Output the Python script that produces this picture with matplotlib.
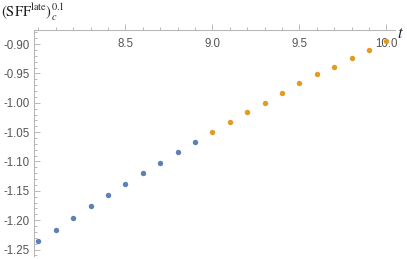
import matplotlib
matplotlib.use("Agg")
from matplotlib import pyplot as plt
from matplotlib.ticker import MultipleLocator, FixedLocator, FormatStrFormatter

# data
t_early = [8.0, 8.1, 8.2, 8.3, 8.4, 8.5, 8.6, 8.7, 8.8, 8.9]
sff_early = [-1.236, -1.216, -1.196, -1.176, -1.157, -1.139, -1.119, -1.102, -1.083, -1.067]
t_late = [9.0, 9.1, 9.2, 9.3, 9.4, 9.5, 9.6, 9.7, 9.8, 9.9, 10.0]
sff_late = [-1.049, -1.033, -1.016, -1.000, -0.984, -0.967, -0.951, -0.939, -0.924, -0.910, -0.895]

x_major = [8.5, 9.0, 9.5, 10.0]
y_major = [-0.90, -0.95, -1.00, -1.05, -1.10, -1.15, -1.20, -1.25]

blue = '#5e81b5'
orange = '#e19c24'
axis_col = '#b8b8b8'
label_col = '#555555'

plt.rcParams['axes.unicode_minus'] = False
plt.rcParams['mathtext.fontset'] = 'stix'
plt.rcParams['font.family'] = ['Liberation Sans', 'DejaVu Sans']

fig = plt.figure(figsize=(4.07, 2.59), dpi=100)
W, H = 407, 259
x0, x1, y0, y1 = 34, 395, 30, 256
ax = fig.add_axes([x0 / W, 1 - y1 / H, (x1 - x0) / W, (y1 - y0) / H])

ax.plot(t_early, sff_early, 'o', color=blue, markersize=3.9, markeredgewidth=0, clip_on=False)
ax.plot(t_late, sff_late, 'o', color=orange, markersize=3.9, markeredgewidth=0, clip_on=False)

ax.set_xlim(7.975, 10.05)
ax.set_ylim(-1.261, -0.876)

# x axis sits at the top of the plot like Mathematica's crossing axes
ax.spines['bottom'].set_position(('axes', 1.0))
ax.spines['top'].set_color('none')
ax.spines['right'].set_color('none')
for s in ('bottom', 'left'):
    ax.spines[s].set_color(axis_col)
    ax.spines[s].set_linewidth(0.8)

ax.xaxis.set_major_locator(FixedLocator(x_major))
ax.xaxis.set_minor_locator(MultipleLocator(0.1))
ax.yaxis.set_major_locator(FixedLocator(y_major))
ax.yaxis.set_minor_locator(MultipleLocator(0.01))
ax.xaxis.set_major_formatter(FormatStrFormatter('%.1f'))
ax.yaxis.set_major_formatter(FormatStrFormatter('%.2f'))

ax.tick_params(axis='x', which='both', direction='in', color=axis_col, width=0.7,
               labelcolor=label_col, labelsize=8.3, pad=5.5)
ax.tick_params(axis='x', which='major', length=4)
ax.tick_params(axis='x', which='minor', length=2.2)
ax.tick_params(axis='y', which='both', direction='in', color=axis_col, width=0.7,
               labelcolor=label_col, labelsize=8.3, pad=3)
ax.tick_params(axis='y', which='major', length=4)
ax.tick_params(axis='y', which='minor', length=2.2)

fig.text(1 / W, 1 - 1 / H, r'$\left(\mathrm{SFF}^{\mathrm{late}}\right)_{c}^{0.1}$',
         ha='left', va='top', fontsize=10.5, color='#222222')
fig.text(400 / W, 1 - 33 / H, r'$t$', ha='center', va='center', fontsize=12, color='#222222')

fig.savefig('out.png', dpi=100)
